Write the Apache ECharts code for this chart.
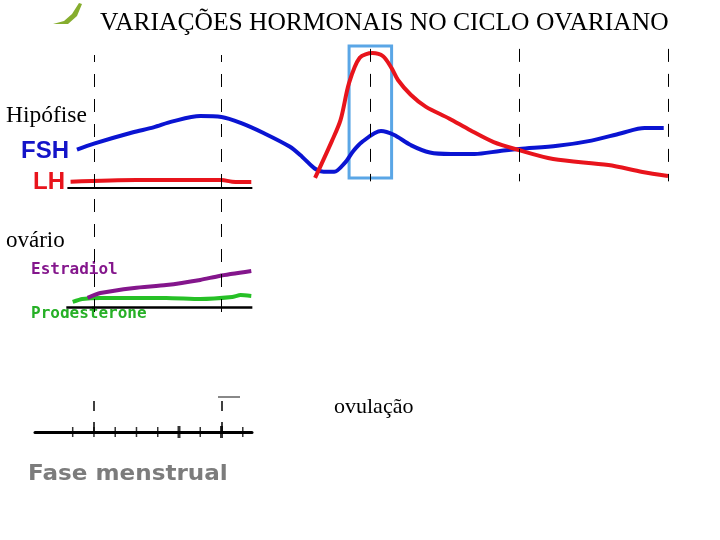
<!DOCTYPE html>
<html lang="pt">
<head>
    <meta charset="UTF-8">
    <title>Variações hormonais no ciclo ovariano</title>
    <script type="text/javascript" src="https://cdn.jsdelivr.net/npm/echarts@6/dist/echarts.min.js"></script>
</head>
<body style="margin:0">
<div id="main" style="width: 720px; height: 540px;"></div>
<script type="text/javascript">
    // x = dia do ciclo, y = nivel relativo
    var fshData = [[0.2, 26], [1.0, 30], [2.8, 37.5], [3.8, 41], [4.7, 45], [6.0, 48.6], [7.0, 48], [7.9, 44],
        [9.0, 37], [10.2, 28], [10.8, 21], [11.4, 13], [11.8, 11], [12.3, 11], [12.8, 17], [13.2, 25],
        [13.6, 31], [14.5, 38.5], [15.1, 36], [15.9, 29], [16.8, 24], [17.8, 23], [18.9, 23], [20.1, 25],
        [21.0, 26.4], [22.8, 28.5], [24.4, 32], [25.8, 37], [26.9, 40.5], [27.8, 40.5]];
    var lhEarly = [[-0.1, 4.3], [3.0, 5.4], [7.0, 5.4], [7.5, 4.3], [8.4, 4.1]];
    var lhSurge = [[11.4, 6.8], [12.2, 32], [12.6, 46], [13.0, 71], [13.5, 88], [14.1, 91.2], [14.6, 89],
        [15.0, 81], [15.3, 73], [15.9, 63], [16.6, 55], [17.7, 47], [18.7, 39], [19.8, 31], [20.9, 26],
        [22.6, 19.6], [25.2, 15.5], [26.8, 10.8], [28.0, 8.1]];
    var estradiolData = [[0.7, 3.2], [1.3, 4.9], [2.9, 6.7], [4.4, 7.7], [6.0, 9.5], [6.9, 10.9], [8.4, 12.6]];
    var progesteronaData = [[0.0, 1.8], [0.45, 2.8], [1.3, 3.2], [4.4, 3.2], [6.0, 2.8], [7.5, 3.5], [7.9, 4.2], [8.4, 3.9]];
    var marcosFase = [1, 7];
    var marcosCiclo = [14, 21, 28];
    var diasEixo = [0, 1, 2, 3, 4, 5, 6, 7, 8];
    var diasGrossos = [5, 7];
    var janelaOvulacao = [13.0, 15.0];

    var dayPx = 21.26, day0 = 72.7;
    var gl = day0 - 2 * dayPx, gr = 720 - (day0 + 30 * dayPx);
    var dash = {color: '#000', width: 1, type: [13, 12]};

    var myChart = echarts.init(document.getElementById('main'));
    var option = {
        backgroundColor: '#fff',
        animation: false,
        grid: [
            {left: gl, right: gr, top: 40, height: 148},
            {left: gl, right: gr, top: 250, height: 57},
            {left: gl, right: gr, top: 55, height: 257},
            {left: 35, width: 217, top: 397, height: 35}
        ],
        xAxis: [
            {gridIndex: 0, type: 'value', min: -2, max: 30, show: false},
            {gridIndex: 1, type: 'value', min: -2, max: 30, show: false},
            {gridIndex: 2, type: 'value', min: -2, max: 30, show: false},
            {gridIndex: 3, type: 'value', position: 'bottom', min: (35 - day0) / dayPx, max: (252 - day0) / dayPx,
                splitLine: {show: false}, axisLabel: {show: false}, axisTick: {show: false},
                axisLine: {lineStyle: {color: '#000', width: 3}}}
        ],
        yAxis: [
            {gridIndex: 0, type: 'value', min: 0, max: 100, show: false},
            {gridIndex: 1, type: 'value', min: 0, max: 20, show: false},
            {gridIndex: 2, type: 'value', min: 0, max: 1, show: false},
            {gridIndex: 3, type: 'value', min: 0, max: 1, show: false}
        ],
        series: [
            {
                name: 'marcos', type: 'line', xAxisIndex: 2, yAxisIndex: 2, data: [], silent: true,
                markLine: {symbol: 'none', label: {show: false}, lineStyle: dash,
                    data: marcosFase.map(function (d) { return {xAxis: d}; })}
            },
            {
                name: 'marcos2', type: 'line', xAxisIndex: 3, yAxisIndex: 3, data: [], silent: true,
                markLine: {symbol: 'none', label: {show: false}, lineStyle: {color: '#000', width: 1.5, type: [10, 11]},
                    data: marcosFase.map(function (d) { return {xAxis: d}; })}
            },
            {
                name: 'dias', type: 'scatter', xAxisIndex: 3, yAxisIndex: 3, silent: true, clip: false,
                data: diasEixo.map(function (d) {
                    var g = diasGrossos.indexOf(d) >= 0;
                    return {value: [d, 0], symbolSize: [g ? 3 : 1.5, g ? 12 : 10]};
                }),
                symbol: 'rect', itemStyle: {color: '#000'}
            },
            {
                name: 'FSH', type: 'line', xAxisIndex: 0, yAxisIndex: 0, data: fshData, smooth: 0.3,
                symbol: 'none', lineStyle: {color: '#0a14d2', width: 4}, z: 3,
                markLine: {symbol: 'none', silent: true, label: {show: false},
                    data: [
                        [{coord: [-0.25, 0], lineStyle: {color: '#000', width: 2, type: 'solid'}}, {coord: [8.45, 0]}]
                    ].concat(marcosCiclo.map(function (d) {
                        return [{coord: [d, 94], lineStyle: dash}, {coord: [d, 4.5]}];
                    }))
                },
                markArea: {silent: true, itemStyle: {color: 'rgba(0,0,0,0)', borderColor: '#5aa6e6', borderWidth: 3},
                    data: [[{coord: [janelaOvulacao[0], 96]}, {coord: [janelaOvulacao[1], 6.8]}]]}
            },
            {
                name: 'LH', type: 'line', xAxisIndex: 0, yAxisIndex: 0, data: lhEarly, smooth: 0.3,
                symbol: 'none', lineStyle: {color: '#e8141c', width: 4}, z: 4
            },
            {
                name: 'LH ', type: 'line', xAxisIndex: 0, yAxisIndex: 0, data: lhSurge, smooth: 0.3,
                symbol: 'none', lineStyle: {color: '#e8141c', width: 4}, z: 4
            },
            {
                name: 'Progesterone', type: 'line', xAxisIndex: 1, yAxisIndex: 1, data: progesteronaData, smooth: 0.2,
                symbol: 'none', lineStyle: {color: '#26c026', width: 4}, z: 3,
                markLine: {symbol: 'none', silent: true, label: {show: false},
                    data: [[{coord: [-0.3, 0], lineStyle: {color: '#000', width: 2.5, type: 'solid'}}, {coord: [8.45, 0]}]]}
            },
            {
                name: 'Estradiol', type: 'line', xAxisIndex: 1, yAxisIndex: 1, data: estradiolData, smooth: 0.2,
                symbol: 'none', lineStyle: {color: '#84168c', width: 4}, z: 4
            }
        ],
        graphic: [
            {type: 'text', x: 100, y: 10, style: {text: 'VARIAÇÕES HORMONAIS NO CICLO OVARIANO',
                font: '25.5px "Liberation Serif"', fill: '#000'}},
            {type: 'polygon', shape: {points: [[53, 24], [64, 21], [72, 14], [79, 3], [82, 4], [77, 16], [68, 24]]},
                style: {fill: '#86ad2e'}},
            {type: 'text', x: 6, y: 104, style: {text: 'Hipófise', font: '23.5px "Liberation Serif"', fill: '#000'}},
            {type: 'text', x: 21, y: 139, style: {text: 'FSH', font: 'bold 24px "Liberation Sans"', fill: '#1414c8'}},
            {type: 'text', x: 33, y: 170, style: {text: 'LH', font: 'bold 24px "Liberation Sans"', fill: '#e8141c'}},
            {type: 'text', x: 6, y: 229, style: {text: 'ovário', font: '23px "Liberation Serif"', fill: '#000'}},
            {type: 'text', x: 31, y: 262, style: {text: 'Estradiol', font: 'bold 16px "DejaVu Sans Mono"', fill: '#84168c'}},
            {type: 'text', x: 31, y: 306, z: 1, style: {text: 'Progesterone', font: 'bold 16px "DejaVu Sans Mono"', fill: '#26b026'}},
            {type: 'rect', z: 2, shape: {x: 20, y: 318, width: 200, height: 20}, style: {fill: '#fff'}},
            {type: 'line', shape: {x1: 218, y1: 397, x2: 240, y2: 397}, style: {stroke: '#888', lineWidth: 2}},
            {type: 'text', x: 334, y: 396, style: {text: 'ovulação', font: '22px "Liberation Serif"', fill: '#000'}},
            {type: 'text', x: 28, y: 464, scaleX: 1.1, style: {text: 'Fase menstrual', font: 'bold 21px "DejaVu Sans"', fill: '#7c7c7c'}}
        ]
    };
    myChart.setOption(option);
</script>
</body>
</html>
